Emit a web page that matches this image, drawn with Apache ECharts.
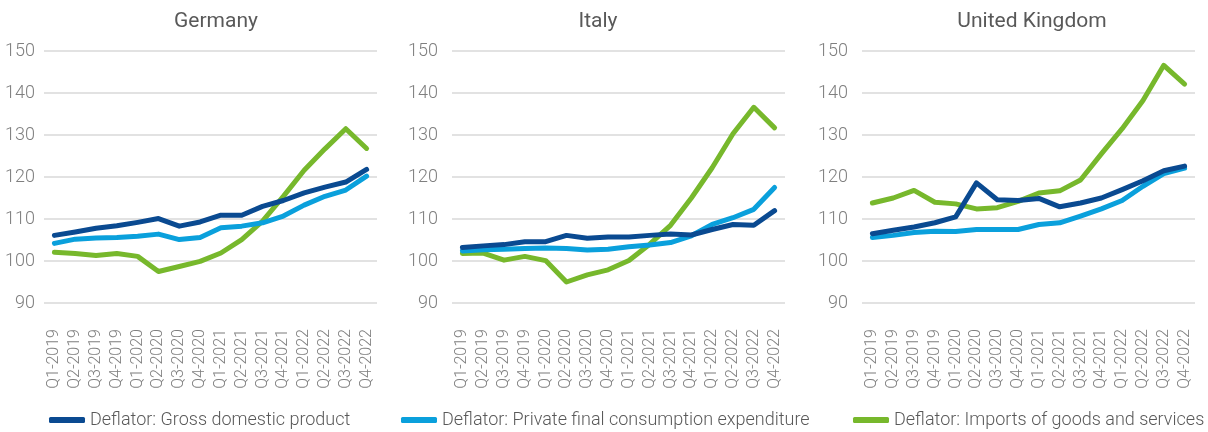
<!DOCTYPE html>
<html>
<head>
<meta charset="utf-8">
<script src="https://cdn.jsdelivr.net/npm/echarts@6/dist/echarts.min.js"></script>
<style>
  html, body { margin: 0; padding: 0; background: #ffffff; }
  #chart { width: 1208px; height: 432px; }
</style>
</head>
<body>
<div id="chart"></div>
<script>
// Quarterly deflators, index levels
const quarters = [
  'Q1-2019', 'Q2-2019', 'Q3-2019', 'Q4-2019',
  'Q1-2020', 'Q2-2020', 'Q3-2020', 'Q4-2020',
  'Q1-2021', 'Q2-2021', 'Q3-2021', 'Q4-2021',
  'Q1-2022', 'Q2-2022', 'Q3-2022', 'Q4-2022'
];

const countries = ['Germany', 'Italy', 'United Kingdom'];
const seriesNames = [
  'Deflator: Gross domestic product',
  'Deflator: Private final consumption expenditure',
  'Deflator: Imports of goods and services'
];

const germanyGdp = [106.1, 106.9, 107.8, 108.4, 109.2, 110.1, 108.3, 109.3, 110.9, 110.9, 113.0, 114.4, 116.2, 117.6, 118.8, 121.8];
const germanyPce = [104.2, 105.2, 105.5, 105.6, 105.9, 106.4, 105.1, 105.6, 107.9, 108.3, 109.1, 110.7, 113.3, 115.4, 116.9, 120.2];
const germanyImp = [102.1, 101.8, 101.3, 101.8, 101.1, 97.5, 98.7, 99.9, 101.9, 105.1, 109.5, 115.4, 121.6, 126.7, 131.5, 126.8];

const italyGdp = [103.2, 103.6, 103.9, 104.6, 104.6, 106.1, 105.4, 105.7, 105.7, 106.1, 106.4, 106.2, 107.5, 108.7, 108.5, 112.0];
const italyPce = [102.4, 102.7, 102.8, 103.0, 103.1, 103.0, 102.6, 102.8, 103.4, 103.8, 104.4, 106.0, 108.7, 110.3, 112.3, 117.5];
const italyImp = [101.8, 101.9, 100.2, 101.1, 100.1, 95.0, 96.7, 97.9, 100.1, 104.0, 108.5, 115.0, 122.2, 130.3, 136.6, 131.7];

const ukGdp = [106.5, 107.3, 108.1, 109.1, 110.5, 118.6, 114.6, 114.4, 114.9, 112.9, 113.8, 115.0, 117.0, 119.1, 121.5, 122.6];
const ukPce = [105.6, 106.1, 106.8, 107.1, 107.0, 107.5, 107.5, 107.5, 108.7, 109.1, 110.7, 112.4, 114.4, 117.8, 120.8, 122.1];
const ukImp = [113.8, 115.0, 116.8, 114.0, 113.6, 112.4, 112.7, 114.2, 116.2, 116.7, 119.3, 125.5, 131.5, 138.2, 146.6, 142.1];

const yTicks = { min: 90, max: 150, step: 10 };

const panelData = [
  [germanyGdp, germanyPce, germanyImp],
  [italyGdp, italyPce, italyImp],
  [ukGdp, ukPce, ukImp]
];

const colors = ['#0a4a91', '#0aa0dc', '#77b82c'];
const font = 'Roboto';
const textGrey = '#7f7f7f';

// panel geometry
const gridLefts = [44, 452, 862];
const gridWidth = 333;
const labelMargins = [9, 14, 14];
const titleCenters = [211, 593, 1027];
const legendLefts = [44, 396, 848];

const grids = gridLefts.map(l => ({ left: l, width: gridWidth, top: 51, height: 252 }));

const xAxes = gridLefts.map((_, i) => ({
  type: 'category',
  gridIndex: i,
  data: quarters,
  boundaryGap: true,
  axisLine: { show: false },
  axisTick: { show: false },
  axisLabel: {
    rotate: 90,
    interval: 0,
    margin: 26,
    color: textGrey,
    fontFamily: font,
    fontWeight: 300,
    fontSize: 16
  }
}));

const yAxes = gridLefts.map((_, i) => ({
  type: 'value',
  gridIndex: i,
  min: yTicks.min,
  max: yTicks.max,
  interval: yTicks.step,
  axisLine: { show: false },
  axisTick: { show: false },
  splitLine: { lineStyle: { color: '#d9d9d9', width: 1.5 } },
  axisLabel: {
    margin: labelMargins[i],
    color: textGrey,
    fontFamily: font,
    fontWeight: 300,
    fontSize: 18
  }
}));

const series = [];
panelData.forEach((set, p) => {
  set.forEach((values, s) => {
    series.push({
      name: seriesNames[s],
      type: 'line',
      xAxisIndex: p,
      yAxisIndex: p,
      data: values,
      symbol: 'none',
      z: 2 + (2 - s),
      lineStyle: { color: colors[s], width: 5, cap: 'round', join: 'round' },
      itemStyle: { color: colors[s] }
    });
  });
});

const titles = countries.map((c, i) => ({
  text: c,
  left: titleCenters[i],
  top: 6,
  textAlign: 'center',
  textStyle: { fontFamily: font, fontWeight: 400, fontSize: 21, color: '#595959' }
}));

const legends = seriesNames.map((n, i) => ({
  data: [n],
  left: legendLefts[i],
  top: 406,
  icon: 'roundRect',
  itemWidth: 36,
  itemHeight: 6,
  itemGap: 8,
  selectedMode: false,
  textStyle: { fontFamily: font, fontWeight: 300, fontSize: 18, color: '#595959' }
}));

const chart = echarts.init(document.getElementById('chart'), null, { renderer: 'canvas' });
chart.setOption({
  animation: false,
  color: colors,
  title: titles,
  legend: legends,
  grid: grids,
  xAxis: xAxes,
  yAxis: yAxes,
  series: series
});
</script>
</body>
</html>
